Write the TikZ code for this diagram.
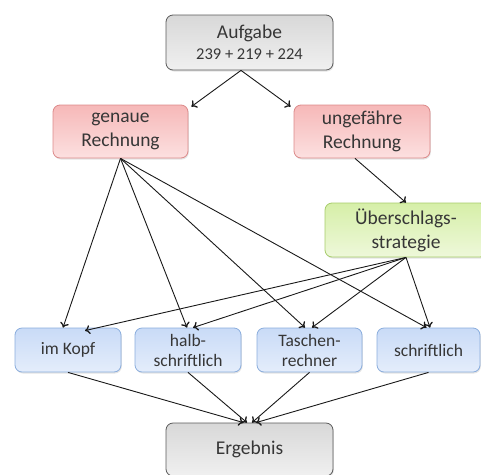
\documentclass[tikz,border=0pt]{standalone}
\usepackage{fontspec}
\setmainfont{Carlito}
\usetikzlibrary{arrows.meta,shadows}
\definecolor{txt}{HTML}{363636}
\definecolor{grayT}{HTML}{D8D8D8}
\definecolor{grayB}{HTML}{F0F0F0}
\definecolor{grayD}{HTML}{5A5A5A}
\definecolor{redT}{HTML}{F6B8B8}
\definecolor{redB}{HTML}{FCE0E0}
\definecolor{redD}{HTML}{DC8A8A}
\definecolor{greenT}{HTML}{D6EFA8}
\definecolor{greenB}{HTML}{EEF8DA}
\definecolor{greenD}{HTML}{A6CC6A}
\definecolor{blueT}{HTML}{C9DBF7}
\definecolor{blueB}{HTML}{E4EDFB}
\definecolor{blueD}{HTML}{8AADDD}
\tikzset{
  box/.style={rounded corners=7pt, line width=0.8pt, align=center, inner sep=0pt,
    text=txt, font=\fontsize{19.5}{24}\selectfont,
    drop shadow={opacity=0.22, shadow xshift=0.8pt, shadow yshift=-1.5pt}},
  graybox/.style={box, draw=grayD, top color=grayT, bottom color=grayB},
  redbox/.style={box, draw=redD, top color=redT, bottom color=redB},
  greenbox/.style={box, draw=greenD, top color=greenT, bottom color=greenB},
  bluebox/.style={box, draw=blueD, top color=blueT, bottom color=blueB,
    font=\fontsize{17.5}{20}\selectfont, minimum height=44pt},
  arr/.style={-{To[length=5pt,width=9pt,line width=1.3pt]}, line width=0.9pt, black!90}
}
\begin{document}
\begin{tikzpicture}[x=1pt,y=-1pt]
\useasboundingbox (0,0) rectangle (481,474);
\node[graybox, minimum width=167pt, minimum height=55pt] (aufgabe) at (249.5,42.5)
  {Aufgabe\\[-3pt]{\fontsize{16.5}{20}\selectfont 239 + 219 + 224}};
\node[redbox, minimum width=135pt, minimum height=53pt] (genau) at (120.5,131.5) {genaue\\Rechnung};
\node[redbox, minimum width=136pt, minimum height=53pt] (ungefaehr) at (362,131.5) {ungefähre\\Rechnung};
\node[greenbox, minimum width=162pt, minimum height=54pt] (ueber) at (406,230) {Überschlags-\\strategie};
\node[bluebox, minimum width=106pt] (kopf) at (68,350) {im Kopf};
\node[bluebox, minimum width=106pt] (halb) at (188,350) {halb-\\schriftlich};
\node[bluebox, minimum width=105pt] (tasche) at (309.5,350) {Taschen-\\rechner};
\node[bluebox, minimum width=103pt] (schrift) at (428.5,350) {schriftlich};
\node[graybox, minimum width=167pt, minimum height=53pt] (ergebnis) at (249.5,449.5) {Ergebnis};

\draw[arr] ([xshift=-8.5pt]aufgabe.south) -- ([xshift=3pt,yshift=-2pt]genau.north east);
\draw[arr] ([xshift=-8.5pt]aufgabe.south) -- ([xshift=-3pt,yshift=-2pt]ungefaehr.north west);
\draw[arr] ([xshift=-7pt]ungefaehr.south) -- (ueber.north);

\draw[arr] (genau.south) -- ([xshift=-5pt]kopf.north);
\draw[arr] (genau.south) -- ([xshift=-1pt]halb.north);
\draw[arr] (genau.south) -- ([xshift=-4.5pt]tasche.north);
\draw[arr] (genau.south) -- ([xshift=-2pt]schrift.north);

\draw[arr] (ueber.south) -- ([xshift=17pt,yshift=-3pt]kopf.north);
\draw[arr] (ueber.south) -- ([xshift=5pt]halb.north);
\draw[arr] (ueber.south) -- ([xshift=2.5pt]tasche.north);
\draw[arr] (ueber.south) -- ([xshift=1.5pt]schrift.north);

\draw[arr] (kopf.south) -- ([xshift=-6pt]ergebnis.north);
\draw[arr] (halb.south) -- ([xshift=-2.5pt]ergebnis.north);
\draw[arr] (tasche.south) -- ([xshift=2.5pt]ergebnis.north);
\draw[arr] (schrift.south) -- ([xshift=6.5pt]ergebnis.north);
\end{tikzpicture}
\end{document}
